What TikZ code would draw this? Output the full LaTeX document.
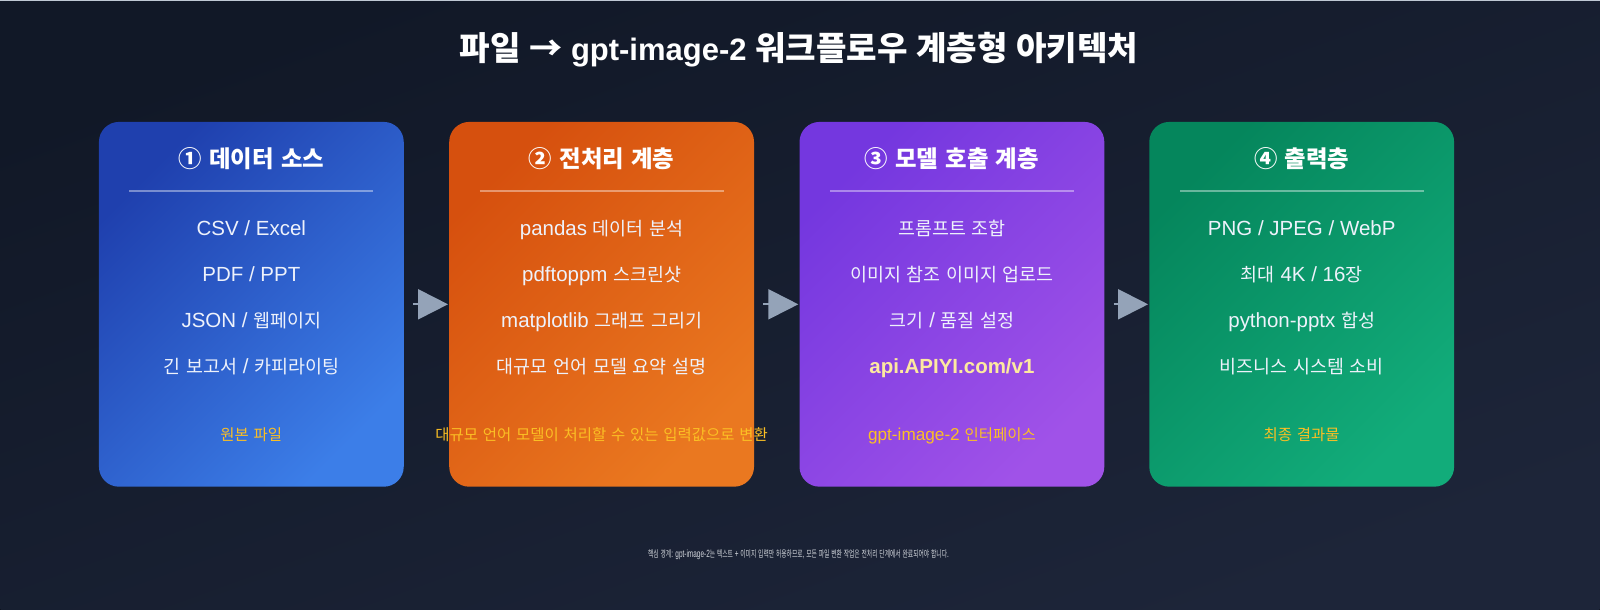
\documentclass[tikz,border=0pt]{standalone}
\usepackage{fontspec}
\setmainfont{Liberation Sans}
\newfontfamily\krfont[Scale=0.9]{Noto Sans CJK KR}
\newfontfamily\krtitlefont[Scale=1.07]{Noto Sans CJK KR}
\usepackage{graphicx}
\usetikzlibrary{arrows.meta}

% Hangul and circled digits go to the Korean font, the rest stays in Liberation Sans
\newcommand\krswitch{\krfont}
\XeTeXinterchartokenstate=1
\newXeTeXintercharclass\hangulclass
\newcount\hcode
\hcode="AC00
\loop
  \XeTeXcharclass\hcode=\hangulclass
  \advance\hcode by 1
\ifnum\hcode<"D7A4 \repeat
\XeTeXcharclass"2460=\hangulclass
\XeTeXcharclass"2461=\hangulclass
\XeTeXcharclass"2462=\hangulclass
\XeTeXcharclass"2463=\hangulclass
\XeTeXcharclass"2192=\hangulclass
\XeTeXinterchartoks 0 \hangulclass = {\krswitch}
\XeTeXinterchartoks 4095 \hangulclass = {\krswitch}
\XeTeXinterchartoks \hangulclass 0 = {\rmfamily}
\XeTeXinterchartoks \hangulclass 4095 = {\rmfamily}

\definecolor{bgtop}{HTML}{111827}
\definecolor{bgbot}{HTML}{1D2539}
\definecolor{srcA}{HTML}{1F40AE}
\definecolor{srcB}{HTML}{3C7EE8}
\definecolor{prepA}{HTML}{D6500E}
\definecolor{prepB}{HTML}{EA7820}
\definecolor{callA}{HTML}{7437DF}
\definecolor{callB}{HTML}{A052E8}
\definecolor{outA}{HTML}{05865C}
\definecolor{outB}{HTML}{12AC7A}
\definecolor{itemwhite}{HTML}{EEF2FB}
\definecolor{noteamber}{HTML}{FBBF24}
\definecolor{apicream}{HTML}{FDE9A0}
\definecolor{arrowgray}{HTML}{94A3B8}
\definecolor{footgray}{HTML}{D1D5DB}

\tikzset{
  layerbox/.style 2 args={rounded corners=20pt, minimum width=305pt, minimum height=365pt,
    inner sep=0pt, top color=#1, bottom color=#2, shading angle=45},
  headtxt/.style={anchor=base, text=white, font=\fontsize{26pt}{30pt}\selectfont\bfseries},
  itemtxt/.style={anchor=base, text=itemwhite, font=\fontsize{20.5pt}{24pt}\selectfont},
  notetxt/.style={anchor=base, text=noteamber, font=\fontsize{17.2pt}{20pt}\selectfont},
  divline/.style={draw=white, draw opacity=0.4, line width=1.3pt},
  flowarrow/.style={draw=arrowgray, line width=2pt, -{Triangle[length=30pt,width=30pt]},
    shorten <=9pt, shorten >=1pt}
}

\begin{document}
\begin{tikzpicture}[x=1pt,y=-1pt]
                % background
                \fill[top color=bgtop, bottom color=bgbot, shading angle=20] (0,0) rectangle (1600,610);
                \draw[arrowgray!60, line width=1pt] (0,0.5) -- (1600,0.5);
                \useasboundingbox (0,0) rectangle (1600,610);

                \node[anchor=base, text=white, font=\def\krswitch{\krtitlefont}\fontsize{31pt}{36pt}\selectfont\bfseries] (title) at (799,61) {파일 → gpt-image-2 워크플로우 계층형 아키텍처};

                % layers
                \node[layerbox={srcA}{srcB}] (src) at (251,304.5) {};
                \node[layerbox={prepA}{prepB}] (prep) at (601.5,304.5) {};
                \node[layerbox={callA}{callB}] (call) at (952,304.5) {};
                \node[layerbox={outA}{outB}] (out) at (1302,304.5) {};

                \node[headtxt] (srchead) at (251,168) {① 데이터 소스};
                \node[headtxt] (prephead) at (601.5,168) {② 전처리 계층};
                \node[headtxt] (callhead) at (952,168) {③ 모델 호출 계층};
                \node[headtxt] (outhead) at (1302,168) {④ 출력층};

                \draw[divline] (129,191) -- (373,191);
                \draw[divline] (479.5,191) -- (723.5,191);
                \draw[divline] (830,191) -- (1074,191);
                \draw[divline] (1180,191) -- (1424,191);

                \node[itemtxt] (s1) at (251,236) {CSV / Excel};
                \node[itemtxt] (s2) at (251,282) {PDF / PPT};
                \node[itemtxt] (s3) at (251,328) {JSON / 웹페이지};
                \node[itemtxt] (s4) at (251,374) {긴 보고서 / 카피라이팅};
                \node[notetxt] (snote) at (251,441) {원본 파일};

                \node[itemtxt] (p1) at (601.5,236) {pandas 데이터 분석};
                \node[itemtxt] (p2) at (601.5,282) {pdftoppm 스크린샷};
                \node[itemtxt] (p3) at (601.5,328) {matplotlib 그래프 그리기};
                \node[itemtxt] (p4) at (601.5,374) {대규모 언어 모델 요약 설명};
                \node[notetxt] (pnote) at (601.5,441) {대규모 언어 모델이 처리할 수 있는 입력값으로 변환};

                \node[itemtxt] (m1) at (952,236) {프롬프트 조합};
                \node[itemtxt] (m2) at (952,282) {이미지 참조 이미지 업로드};
                \node[itemtxt] (m3) at (952,328) {크기 / 품질 설정};
                \node[itemtxt, text=apicream, font=\fontsize{20.5pt}{24pt}\selectfont\bfseries] (m4) at (952,374) {api.APIYI.com/v1};
                \node[notetxt] (mnote) at (952,441) {gpt-image-2 인터페이스};

                \node[itemtxt] (o1) at (1302,236) {PNG / JPEG / WebP};
                \node[itemtxt] (o2) at (1302,282) {최대 4K / 16장};
                \node[itemtxt] (o3) at (1302,328) {python-pptx 합성};
                \node[itemtxt] (o4) at (1302,374) {비즈니스 시스템 소비};
                \node[notetxt] (onote) at (1302,441) {최종 결과물};

                % flow
                \draw[flowarrow] (src) -- (prep);
                \draw[flowarrow] (prep) -- (call);
                \draw[flowarrow] (call) -- (out);

                \node[anchor=base, text=footgray, font=\fontsize{10.5pt}{12pt}\selectfont] (foot) at (798.5,558) {\resizebox{301pt}{\height}{핵심 경계: gpt-image-2는 텍스트 + 이미지 입력만 허용하므로, 모든 파일 변환 작업은 전처리 단계에서 완료되어야 합니다.}};
            \end{tikzpicture}
\end{document}
